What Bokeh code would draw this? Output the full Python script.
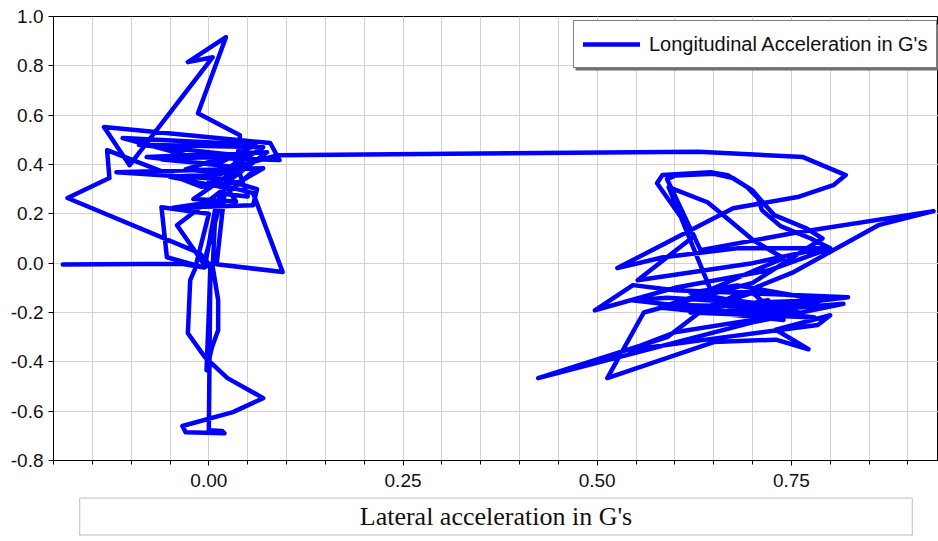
from bokeh.plotting import figure
from bokeh.models import (FixedTicker, PrintfTickFormatter, Legend, LegendItem,
                          Title, BoxAnnotation, Range1d)
from bokeh.embed import file_html
from bokeh.resources import INLINE

# Lateral (x) and longitudinal (y) acceleration samples, in G's
lateral_g = [
    -0.188, -0.035, -0.006, 0.002, 0.000, -0.003, 0.004, 0.012, 0.012, 0.005,
    0.008, 0.015, -0.041, -0.005, 0.010, -0.046, 0.057, 0.062, 0.020, -0.119,
    0.070, 0.040, -0.010, -0.131, -0.128, -0.182, -0.012, 0.002, 0.000, 0.017,
    0.020, -0.030, -0.034, 0.031, 0.070, 0.024, -0.005, -0.027, -0.024, -0.018,
    0.000, -0.061, -0.054, -0.008, 0.020, 0.035, 0.040, 0.040, -0.014, 0.022,
    -0.027, 0.005, -0.102, -0.135, 0.079, 0.091, -0.020, -0.111, 0.060, 0.010,
    -0.060, 0.050, 0.000, 0.057, 0.095, 0.010, 0.020, 0.050, 0.040, -0.030,
    0.030, -0.090, 0.070, 0.015, -0.050, 0.030, 0.060, -0.080, 0.075, 0.020,
    0.035, -0.020, 0.045, 0.089, 0.630, 0.765, 0.820, 0.804, 0.758, 0.675,
    0.526, 0.585, 0.680, 0.791, 0.700, 0.552, 0.625, 0.577, 0.584, 0.646,
    0.668, 0.693, 0.707, 0.712, 0.736, 0.775, 0.800, 0.720, 0.600, 0.497,
    0.546, 0.600, 0.760, 0.823, 0.740, 0.590, 0.545, 0.680, 0.817, 0.700,
    0.424, 0.590, 0.640, 0.753, 0.862, 0.933, 0.753, 0.633, 0.590, 0.600,
    0.650, 0.675, 0.700, 0.715, 0.728, 0.770, 0.790, 0.700, 0.560, 0.513,
    0.650, 0.730, 0.772, 0.730, 0.800, 0.784, 0.640, 0.540, 0.600, 0.700,
    0.760, 0.620, 0.680, 0.790, 0.700, 0.650, 0.592, 0.642, 0.659, 0.701,
    0.740, 0.680, 0.600, 0.760, 0.800, 0.650, 0.580, 0.740, 0.700, 0.620,
    0.780, 0.670, 0.720,
]
longitudinal_g = [
    -0.005, -0.002, -0.018, -0.004, -0.200, -0.434, -0.341, -0.272, -0.150, -0.016,
    0.180, 0.290, 0.154, -0.010, 0.250, 0.225, 0.235, 0.300, 0.340, 0.369,
    0.385, 0.330, 0.310, 0.458, 0.345, 0.264, 0.041, -0.010, -0.677, -0.680,
    -0.690, -0.685, -0.660, -0.604, -0.547, -0.466, -0.381, -0.284, -0.069, -0.025,
    0.200, 0.227, 0.024, -0.016, 0.300, 0.420, 0.479, 0.519, 0.608, 0.916,
    0.815, 0.835, 0.397, 0.552, 0.487, 0.418, 0.430, 0.507, 0.480, 0.400,
    0.420, 0.440, 0.330, 0.284, -0.036, -0.004, 0.280, 0.270, 0.360, 0.380,
    0.440, 0.480, 0.470, 0.360, 0.350, 0.300, 0.380, 0.430, 0.450, 0.320,
    0.250, 0.260, 0.400, 0.438, 0.452, 0.430, 0.357, 0.316, 0.268, 0.223,
    -0.020, 0.024, 0.060, 0.061, 0.000, -0.069, 0.110, 0.324, 0.357, 0.369,
    0.357, 0.308, 0.264, 0.215, 0.150, 0.100, 0.060, -0.030, -0.100, -0.191,
    -0.089, -0.110, -0.130, -0.138, -0.170, -0.140, -0.150, -0.200, -0.165, -0.240,
    -0.466, -0.300, -0.180, -0.036, 0.154, 0.211, 0.122, 0.053, 0.340, 0.355,
    0.362, 0.345, 0.295, 0.240, 0.195, 0.140, 0.100, -0.080, -0.200, -0.466,
    -0.320, -0.310, -0.349, -0.270, -0.211, -0.251, -0.310, -0.353, -0.280, -0.230,
    -0.200, -0.120, -0.090, -0.150, -0.160, -0.140, 0.308, 0.247, 0.203, 0.093,
    0.020, -0.060, -0.170, -0.180, -0.140, -0.110, -0.180, -0.230, -0.120, -0.200,
    -0.220, -0.180, -0.150,
]

x_major = [0.0, 0.25, 0.5, 0.75]
x_minor = [-0.2, -0.15, -0.1, -0.05, 0.0, 0.05, 0.1, 0.15, 0.2, 0.25, 0.3, 0.35,
           0.4, 0.45, 0.5, 0.55, 0.6, 0.65, 0.7, 0.75, 0.8, 0.85, 0.9]
y_major = [-0.8, -0.6, -0.4, -0.2, 0.0, 0.2, 0.4, 0.6, 0.8, 1.0]

series_name = "Longitudinal Acceleration in G's"
x_title = "Lateral acceleration in G's"

p = figure(width=938, height=541, output_backend="svg", toolbar_location=None,
           x_range=Range1d(-0.2, 0.9394), y_range=Range1d(-0.8, 1.0),
           min_border_left=53, min_border_right=0, min_border_top=16,
           min_border_bottom=81)
p.background_fill_color = "white"
p.border_fill_color = "white"
p.outline_line_color = "black"
p.outline_line_width = 1

tick_font = "Liberation Sans"

# x axis: labels every 0.25, ticks and grid every 0.05
p.xaxis.ticker = FixedTicker(ticks=x_major, minor_ticks=x_minor)
p.xaxis.formatter = PrintfTickFormatter(format="%.2f")
p.xaxis.major_tick_out = 5
p.xaxis.major_tick_in = 0
p.xaxis.minor_tick_out = 4
p.xaxis.minor_tick_in = 0
p.xaxis.axis_line_color = "black"
p.xaxis.major_label_text_font = tick_font
p.xaxis.major_label_text_font_size = "19px"
p.xaxis.major_label_text_color = "#111111"
p.xaxis.major_label_standoff = 8

p.yaxis.ticker = FixedTicker(ticks=y_major)
p.yaxis.formatter = PrintfTickFormatter(format="%.1f")
p.yaxis.major_tick_out = 5
p.yaxis.major_tick_in = 0
p.yaxis.minor_tick_line_color = None
p.yaxis.axis_line_color = "black"
p.yaxis.major_label_text_font = tick_font
p.yaxis.major_label_text_font_size = "19px"
p.yaxis.major_label_text_color = "#111111"
p.yaxis.major_label_standoff = 5

p.xgrid.grid_line_color = "#d2d2d2"
p.xgrid.minor_grid_line_color = "#d2d2d2"
p.ygrid.grid_line_color = "#d2d2d2"

# trace
r = p.line(lateral_g, longitudinal_g, line_color="#0000ff", line_width=4.5,
           line_join="round", line_cap="round")

# legend drop shadow
shadow = BoxAnnotation(left=522, right=960, top=436, bottom=390,
                       left_units="screen", right_units="screen",
                       top_units="screen", bottom_units="screen",
                       fill_color="#707070", fill_alpha=1.0, line_color=None)
p.add_layout(shadow)

legend = Legend(items=[LegendItem(label=series_name, renderers=[r])],
                location=(520, 392), orientation="vertical",
                border_line_color="black", border_line_width=1,
                background_fill_color="white", background_fill_alpha=1.0,
                padding=9, margin=0, spacing=0,
                glyph_width=57, glyph_height=28, label_standoff=9,
                label_text_font=tick_font, label_text_font_size="20px",
                label_text_color="#111111")
p.add_layout(legend)

# boxed axis title under the x axis
x_axis_title = Title(text=x_title, align="center", offset=0, standoff=13,
                     text_font="Liberation Serif", text_font_size="26px",
                     text_font_style="normal", text_color="#111111",
                     border_line_color="#bdbdbd", border_line_width=1,
                     background_fill_color=None,
                     padding={"x": 280, "y": 4})
p.add_layout(x_axis_title, "below")

open("out.html", "w").write(file_html(p, INLINE))
